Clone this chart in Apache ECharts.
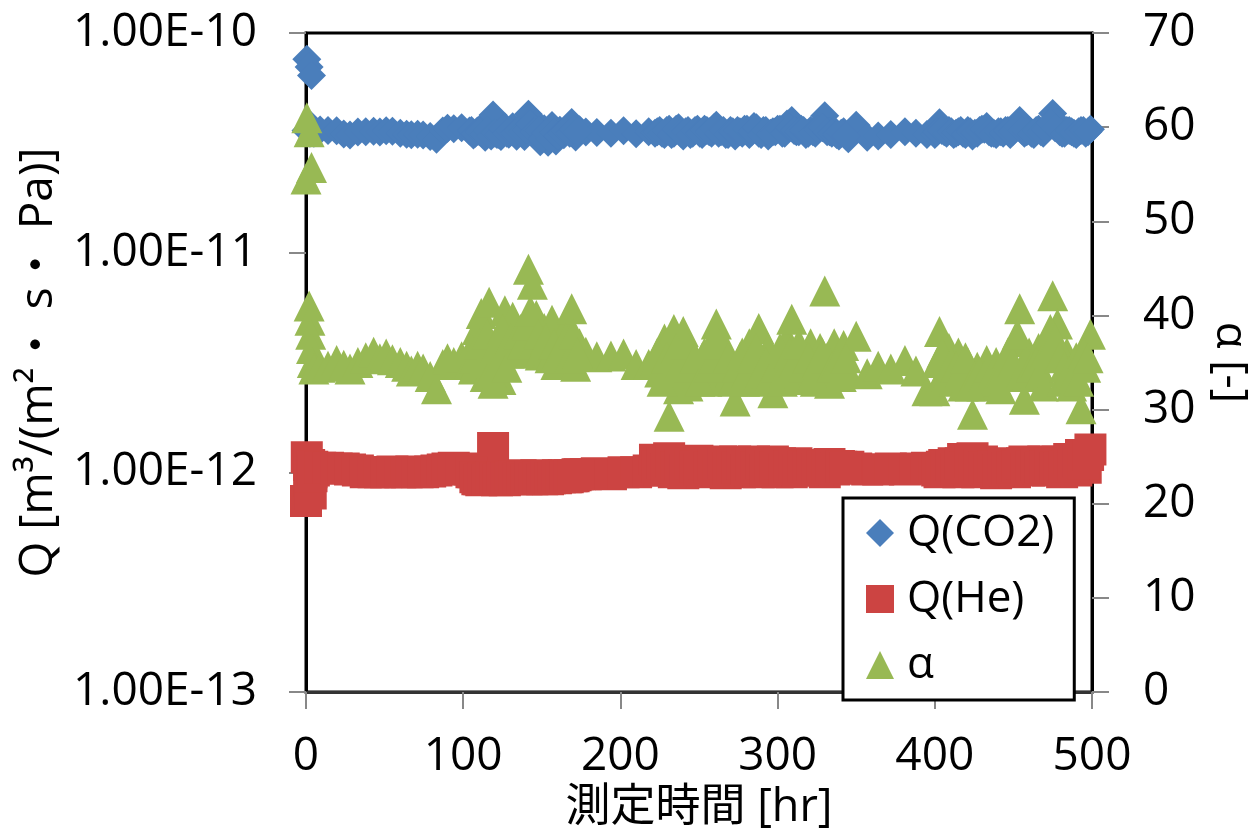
<!DOCTYPE html>
<html>
<head>
<meta charset="utf-8">
<script src="https://cdn.jsdelivr.net/npm/echarts@6/dist/echarts.min.js"></script>
<style>
html,body{margin:0;padding:0;background:#fff;}
#chart{width:1260px;height:836px;}
</style>
</head>
<body>
<div id="chart"></div>
<script>
// measurement time [hr]
const hours = [
  0, 0.5, 2, 3.5, 2, 2.5, 3, 3.5, 4, 5,
  9, 14, 19.5, 24, 28, 33, 38, 43, 47, 51, 55, 60, 64, 67, 71, 74.5, 79, 83, 87, 90, 94, 99,
  104, 106.5, 109, 111.5, 114, 116.5, 119, 121.5, 124, 126.5, 129, 131.5, 134, 136.5, 139, 141.5, 144, 146.5, 149, 151.5, 154, 156.5, 159, 161.5, 164, 166.5, 169, 171.5, 174,
  178, 185, 194, 202, 210, 218,
  222, 225, 228, 231, 234, 237, 240, 243, 246, 249, 252, 255, 258, 261, 264, 267, 270, 273, 276, 279, 282, 285, 288, 291, 294, 297, 300, 303, 306, 309, 312, 315, 318, 321, 324, 327, 330, 333, 336, 339, 342, 345,
  350, 357, 364, 372, 381, 388, 395,
  400, 403, 406, 409, 412, 415, 418, 421, 424, 427, 430, 433, 436, 439, 442, 445, 448, 451, 454, 457, 460, 463, 466, 469, 472, 475, 478, 481, 484, 487, 490, 493, 496, 499,
  105.25, 107.75, 110.25, 112.75, 115.25, 117.75, 120.25, 122.75, 125.25, 127.75, 130.25, 132.75, 135.25, 137.75, 140.25, 142.75, 145.25, 147.75, 150.25, 152.75, 155.25, 157.75, 160.25, 162.75, 165.25, 167.75, 170.25, 172.75,
  223.5, 226.5, 229.5, 232.5, 235.5, 238.5, 241.5, 244.5, 247.5, 250.5, 253.5, 256.5, 259.5, 262.5, 265.5, 268.5, 271.5, 274.5, 277.5, 280.5, 283.5, 286.5, 289.5, 292.5, 295.5, 298.5, 301.5, 304.5, 307.5, 310.5, 313.5, 316.5, 319.5, 322.5, 325.5, 328.5, 331.5, 334.5, 337.5, 340.5, 343.5,
  401.5, 404.5, 407.5, 410.5, 413.5, 416.5, 419.5, 422.5, 425.5, 428.5, 431.5, 434.5, 437.5, 440.5, 443.5, 446.5, 449.5, 452.5, 455.5, 458.5, 461.5, 464.5, 467.5, 470.5, 473.5, 476.5, 479.5, 482.5, 485.5, 488.5, 491.5, 494.5, 497.5
];
// Q(CO2) [m3/(m2 s Pa)]
const qCO2 = [
  3.6e-11, 7.6e-11, 7.0e-11, 6.4e-11, 3.7e-11, 3.5e-11, 3.8e-11, 3.6e-11, 3.7e-11, 3.5e-11,
  3.62e-11, 3.6e-11, 3.59e-11, 3.47e-11, 3.43e-11, 3.54e-11, 3.55e-11, 3.57e-11, 3.54e-11, 3.59e-11, 3.57e-11, 3.5e-11, 3.46e-11, 3.44e-11, 3.46e-11, 3.43e-11, 3.38e-11, 3.28e-11, 3.58e-11, 3.68e-11, 3.67e-11, 3.7e-11,
  3.58e-11, 3.43e-11, 3.58e-11, 3.7e-11, 3.35e-11, 3.85e-11, 4.23e-11, 3.45e-11, 3.38e-11, 3.73e-11, 3.46e-11, 3.74e-11, 3.39e-11, 3.73e-11, 3.38e-11, 4.27e-11, 4.03e-11, 3.88e-11, 3.2e-11, 3.67e-11, 3.18e-11, 3.79e-11, 3.22e-11, 3.61e-11, 3.44e-11, 3.71e-11, 3.91e-11, 3.36e-11, 3.63e-11,
  3.54e-11, 3.52e-11, 3.5e-11, 3.59e-11, 3.48e-11, 3.55e-11,
  3.5e-11, 3.6e-11, 3.45e-11, 3.65e-11, 3.5e-11, 3.7e-11, 3.4e-11, 3.6e-11, 3.5e-11, 3.65e-11, 3.45e-11, 3.6e-11, 3.5e-11, 3.8e-11, 3.55e-11, 3.45e-11, 3.6e-11, 3.4e-11, 3.55e-11, 3.65e-11, 3.45e-11, 3.75e-11, 3.5e-11, 3.6e-11, 3.4e-11, 3.55e-11, 3.65e-11, 3.5e-11, 3.85e-11, 4.0e-11, 3.55e-11, 3.65e-11, 3.45e-11, 3.6e-11, 3.5e-11, 3.7e-11, 4.2e-11, 3.55e-11, 3.6e-11, 3.4e-11, 3.55e-11, 3.3e-11,
  3.8e-11, 3.35e-11, 3.4e-11, 3.45e-11, 3.55e-11, 3.5e-11, 3.45e-11,
  3.45e-11, 3.9e-11, 3.55e-11, 3.6e-11, 3.45e-11, 3.55e-11, 3.5e-11, 3.6e-11, 3.4e-11, 3.5e-11, 3.65e-11, 3.75e-11, 3.5e-11, 3.45e-11, 3.55e-11, 3.6e-11, 3.45e-11, 3.7e-11, 4.0e-11, 3.5e-11, 3.6e-11, 3.45e-11, 3.65e-11, 3.5e-11, 3.7e-11, 4.3e-11, 3.9e-11, 3.5e-11, 3.6e-11, 3.55e-11, 3.45e-11, 3.6e-11, 3.5e-11, 3.65e-11,
  3.6e-11, 3.5e-11, 3.55e-11, 3.45e-11, 3.6e-11, 3.4e-11, 3.5e-11, 3.45e-11, 3.65e-11, 3.5e-11, 3.55e-11, 3.5e-11, 3.6e-11, 3.55e-11, 3.65e-11, 3.85e-11, 3.55e-11, 3.6e-11, 3.3e-11, 3.5e-11, 3.3e-11, 3.55e-11, 3.4e-11, 3.5e-11, 3.6e-11, 3.5e-11, 3.65e-11, 3.55e-11,
  3.55e-11, 3.5e-11, 3.6e-11, 3.45e-11, 3.65e-11, 3.5e-11, 3.55e-11, 3.45e-11, 3.6e-11, 3.5e-11, 3.65e-11, 3.55e-11, 3.7e-11, 3.5e-11, 3.6e-11, 3.45e-11, 3.55e-11, 3.6e-11, 3.5e-11, 3.65e-11, 3.55e-11, 3.7e-11, 3.45e-11, 3.6e-11, 3.5e-11, 3.55e-11, 3.65e-11, 3.5e-11, 3.7e-11, 3.6e-11, 3.55e-11, 3.6e-11, 3.5e-11, 3.55e-11, 3.65e-11, 3.7e-11, 3.55e-11, 3.5e-11, 3.45e-11, 3.5e-11, 3.4e-11,
  3.55e-11, 3.6e-11, 3.5e-11, 3.55e-11, 3.5e-11, 3.6e-11, 3.45e-11, 3.55e-11, 3.5e-11, 3.6e-11, 3.65e-11, 3.55e-11, 3.5e-11, 3.55e-11, 3.5e-11, 3.6e-11, 3.55e-11, 3.75e-11, 3.6e-11, 3.55e-11, 3.5e-11, 3.6e-11, 3.55e-11, 3.65e-11, 3.9e-11, 3.7e-11, 3.55e-11, 3.5e-11, 3.6e-11, 3.5e-11, 3.55e-11, 3.6e-11, 3.55e-11
];
// Q(He) [m3/(m2 s Pa)]
const qHe = [
  0.74e-12, 1.17e-12, 1.08e-12, 1.0e-12, 0.92e-12, 0.84e-12, 0.8e-12, 0.96e-12, 1.06e-12, 1.02e-12,
  1.05e-12, 1.05e-12, 1.04e-12, 1.04e-12, 1.03e-12, 1.02e-12, 1.0e-12, 1.0e-12, 1.0e-12, 1.0e-12, 1.01e-12, 1.0e-12, 1.0e-12, 1.01e-12, 1.0e-12, 1.0e-12, 1.01e-12, 1.02e-12, 1.03e-12, 1.04e-12, 1.05e-12, 1.04e-12,
  1.03e-12, 1.0e-12, 0.93e-12, 0.92e-12, 0.95e-12, 0.93e-12, 1.29e-12, 0.92e-12, 0.95e-12, 0.92e-12, 0.96e-12, 0.94e-12, 0.93e-12, 0.97e-12, 0.94e-12, 0.95e-12, 0.93e-12, 0.97e-12, 0.94e-12, 0.95e-12, 0.93e-12, 0.96e-12, 0.94e-12, 0.95e-12, 0.97e-12, 0.95e-12, 0.96e-12, 0.97e-12, 0.98e-12,
  0.98e-12, 0.99e-12, 0.98e-12, 1.0e-12, 1.0e-12, 1.02e-12,
  1.14e-12, 1.02e-12, 1.1e-12, 1.16e-12, 1.0e-12, 1.12e-12, 0.99e-12, 1.08e-12, 1.03e-12, 1.13e-12, 1.0e-12, 1.1e-12, 1.02e-12, 1.06e-12, 1.12e-12, 0.99e-12, 1.08e-12, 1.12e-12, 1.0e-12, 1.1e-12, 1.03e-12, 1.12e-12, 1.0e-12, 1.08e-12, 1.02e-12, 1.12e-12, 1.0e-12, 1.09e-12, 1.04e-12, 1.0e-12, 1.1e-12, 1.03e-12, 1.08e-12, 1.02e-12, 1.07e-12, 1.04e-12, 1.0e-12, 1.09e-12, 1.03e-12, 1.07e-12, 1.05e-12, 1.06e-12,
  1.04e-12, 1.03e-12, 1.03e-12, 1.04e-12, 1.03e-12, 1.04e-12, 1.05e-12,
  1.04e-12, 1.0e-12, 1.08e-12, 1.02e-12, 1.1e-12, 1.0e-12, 1.15e-12, 1.03e-12, 1.16e-12, 1.0e-12, 1.12e-12, 1.02e-12, 1.08e-12, 0.99e-12, 1.06e-12, 1.02e-12, 1.1e-12, 1.0e-12, 1.08e-12, 1.12e-12, 1.02e-12, 1.1e-12, 1.04e-12, 1.12e-12, 1.02e-12, 1.06e-12, 1.12e-12, 1.0e-12, 1.08e-12, 1.1e-12, 1.02e-12, 1.2e-12, 1.05e-12, 1.27e-12,
  1.0e-12, 0.95e-12, 0.93e-12, 0.94e-12, 0.93e-12, 0.95e-12, 0.94e-12, 0.93e-12, 0.95e-12, 0.94e-12, 0.95e-12, 0.96e-12, 0.94e-12, 0.95e-12, 0.93e-12, 0.96e-12, 0.94e-12, 0.95e-12, 0.93e-12, 0.96e-12, 0.94e-12, 0.95e-12, 0.97e-12, 0.96e-12, 0.95e-12, 0.97e-12, 0.96e-12, 0.98e-12,
  1.06e-12, 1.1e-12, 1.03e-12, 1.12e-12, 1.05e-12, 1.08e-12, 1.02e-12, 1.1e-12, 1.06e-12, 1.03e-12, 1.1e-12, 1.05e-12, 1.08e-12, 1.02e-12, 1.1e-12, 1.04e-12, 1.07e-12, 1.05e-12, 1.1e-12, 1.03e-12, 1.08e-12, 1.05e-12, 1.1e-12, 1.02e-12, 1.07e-12, 1.05e-12, 1.1e-12, 1.03e-12, 1.06e-12, 1.08e-12, 1.02e-12, 1.06e-12, 1.05e-12, 1.08e-12, 1.03e-12, 1.06e-12, 1.05e-12, 1.07e-12, 1.04e-12, 1.06e-12, 1.05e-12,
  1.02e-12, 1.06e-12, 1.04e-12, 1.08e-12, 1.03e-12, 1.1e-12, 1.05e-12, 1.12e-12, 1.04e-12, 1.08e-12, 1.05e-12, 1.04e-12, 1.06e-12, 1.02e-12, 1.08e-12, 1.04e-12, 1.05e-12, 1.06e-12, 1.1e-12, 1.04e-12, 1.06e-12, 1.08e-12, 1.05e-12, 1.06e-12, 1.08e-12, 1.05e-12, 1.04e-12, 1.06e-12, 1.15e-12, 1.08e-12, 1.12e-12, 1.1e-12, 1.2e-12
];
// separation factor alpha [-]
const alpha = [
  54.5, 61, 59.5, 55.7, 41, 39.5, 38, 36.5, 35, 34.3,
  34.5, 34.6, 35.2, 34.7, 34.3, 35.0, 35.5, 36.1, 35.4, 35.9, 35.3, 35.0, 34.6, 34.1, 34.6, 34.3, 33.5, 32.2, 34.8, 35.4, 35.0, 35.6,
  34.8, 34.3, 38.5, 40.2, 33.5, 41.4, 32.8, 37.5, 33.2, 40.5, 36.0, 39.8, 36.5, 38.5, 36.0, 44.9, 43.3, 40.0, 35.8, 38.6, 36.0, 39.5, 34.8, 38.0, 35.5, 39.0, 40.7, 34.6, 37.0,
  36.1, 35.6, 35.7, 35.9, 34.8, 34.8,
  35.0, 34.0, 37.5, 29.3, 38.5, 32.2, 38.3, 32.5, 36.0, 33.5, 35.5, 33.0, 37.0, 39.1, 33.2, 36.5, 34.0, 30.9, 35.5, 33.0, 37.0, 33.5, 38.6, 33.0, 36.5, 31.8, 35.0, 33.0, 37.5, 39.6, 33.2, 36.0, 34.0, 37.0, 33.0, 36.5, 42.6, 32.8, 37.0, 33.5, 36.8, 34.0,
  37.8, 33.8, 34.6, 34.3, 35.2, 34.1, 32.0,
  32.0, 38.3, 34.0, 36.5, 33.0, 36.0, 32.5, 35.0, 29.5, 34.5, 32.5, 35.2, 33.0, 35.0, 32.2, 35.2, 33.5, 37.2, 40.7, 31.1, 36.0, 33.5, 36.5, 32.5, 37.5, 42.1, 39.1, 33.0, 36.0, 32.5, 35.5, 30.1, 34.5, 38.0,
  36.5, 35.5, 37.0, 35.0, 38.0, 34.0, 36.5, 35.0, 38.5, 34.5, 37.5, 36.0, 38.0, 37.0, 39.0, 40.5, 37.0, 38.0, 36.5, 37.5, 35.5, 37.0, 36.0, 36.5, 37.5, 35.5, 38.0, 36.0,
  36.0, 33.0, 35.5, 34.0, 36.5, 35.0, 37.0, 34.5, 35.5, 33.0, 36.0, 34.5, 35.5, 37.0, 34.5, 35.5, 33.0, 34.5, 36.0, 34.0, 35.5, 36.5, 34.0, 35.0, 33.5, 34.5, 36.5, 34.0, 36.0, 35.0, 37.0, 34.5, 35.5, 33.5, 35.0, 36.0, 35.5, 34.5, 35.0, 33.5, 35.5,
  35.0, 36.0, 33.5, 35.0, 34.5, 34.0, 35.5, 32.5, 33.5, 34.0, 33.5, 34.5, 34.0, 33.5, 34.0, 36.0, 35.0, 38.0, 34.0, 35.0, 34.5, 35.0, 34.0, 36.0, 38.5, 37.5, 35.5, 34.5, 34.0, 33.5, 33.0, 36.0, 35.5
];
const seriesNames = ['Q(CO2)', 'Q(He)', 'α'];
const xName = '測定時間 [hr]';
const yLeftName = 'Q [m³/(m²・ s・ Pa)]';
const yRightName = 'α [-]';

const FONT = "'Open Sans', 'Noto Sans CJK JP', sans-serif";
const chart = echarts.init(document.getElementById('chart'), null, {renderer: 'canvas'});
const pair = arr => hours.map((t, i) => [t, arr[i]]);

chart.setOption({
  animation: false,
  backgroundColor: '#fff',
  textStyle: {fontFamily: FONT, color: '#000'},
  grid: {left: 306, right: 166, top: 33, bottom: 144, show: true, borderColor: '#000', borderWidth: 3, backgroundColor: 'transparent'},
  legend: {
    data: seriesNames,
    orient: 'vertical',
    left: 843, top: 498,
    padding: [13, 20, 13, 23],
    itemGap: 22,
    itemWidth: 28, itemHeight: 28,
    backgroundColor: '#fff',
    borderColor: '#000', borderWidth: 3, borderRadius: 0,
    z: 10,
    textStyle: {fontFamily: FONT, fontSize: 44, lineHeight: 44, color: '#000', padding: [0, 0, 0, 8]}
  },
  xAxis: {
    type: 'value', min: 0, max: 500, interval: 100,
    name: xName, nameLocation: 'middle', nameGap: 94,
    nameTextStyle: {fontFamily: FONT, fontSize: 45, color: '#000'},
    axisLine: {show: true, lineStyle: {color: '#333', width: 3}},
    axisTick: {show: true, length: 17, lineStyle: {color: '#888', width: 2}},
    axisLabel: {fontFamily: FONT, fontSize: 46, color: '#000', margin: 42},
    splitLine: {show: false}
  },
  yAxis: [
    {
      type: 'log', logBase: 10, min: 1e-13, max: 1e-10, position: 'left',
      name: yLeftName, nameLocation: 'middle', nameGap: 244,
      nameTextStyle: {fontFamily: FONT, fontSize: 46, color: '#000'},
      axisLine: {show: true, lineStyle: {color: '#000', width: 3}},
      axisTick: {show: true, length: 17, lineStyle: {color: '#888', width: 2}},
      axisLabel: {fontFamily: FONT, fontSize: 46, color: '#000', margin: 49,
        formatter: v => Number(v).toExponential(2).toUpperCase()},
      splitLine: {show: false}
    },
    {
      type: 'value', min: 0, max: 70, interval: 10, position: 'right',
      name: yRightName, nameLocation: 'middle', nameGap: 116, nameRotate: -90,
      nameTextStyle: {fontFamily: FONT, fontSize: 44, color: '#000'},
      axisLine: {show: true, lineStyle: {color: '#000', width: 3}},
      axisTick: {show: true, length: 17, lineStyle: {color: '#888', width: 2}},
      axisLabel: {fontFamily: FONT, fontSize: 46, color: '#000', margin: 51},
      splitLine: {show: false}
    }
  ],
  series: [
    {name: seriesNames[0], type: 'scatter', yAxisIndex: 0, symbol: 'diamond', symbolSize: 29, clip: false,
      itemStyle: {color: '#4A7EBB', opacity: 1}, data: pair(qCO2)},
    {name: seriesNames[1], type: 'scatter', yAxisIndex: 0, symbol: 'rect', symbolSize: 32, clip: false,
      itemStyle: {color: '#CC4442', opacity: 1}, data: pair(qHe)},
    {name: seriesNames[2], type: 'scatter', yAxisIndex: 1, symbol: 'triangle', symbolSize: 31, clip: false,
      itemStyle: {color: '#98B954', opacity: 1}, data: pair(alpha)}
  ]
});
</script>
</body>
</html>
